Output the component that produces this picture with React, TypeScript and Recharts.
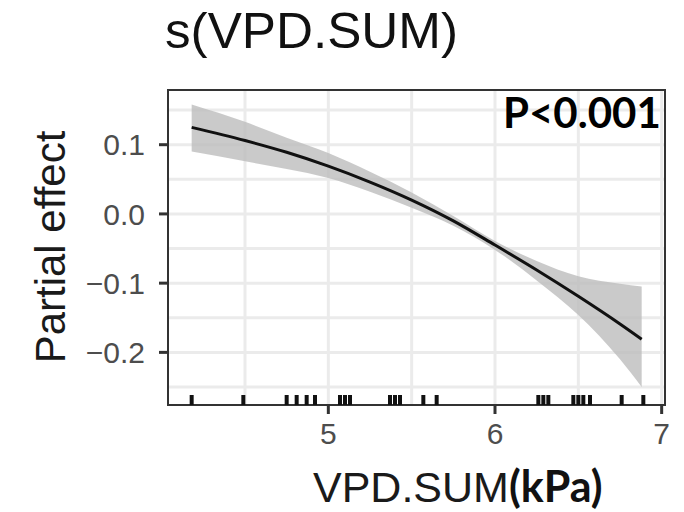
import React from 'react';
import { ComposedChart, Area, Line, Scatter, XAxis, YAxis, CartesianGrid, ReferenceArea } from 'recharts';

// smooth term s(VPD.SUM)
const vpd = [4.18, 4.5, 4.75, 5.0, 5.25, 5.5, 5.75, 6.0, 6.25, 6.5, 6.75, 6.88];
const fit = [0.125, 0.106, 0.089, 0.069, 0.046, 0.02, -0.01, -0.045, -0.081, -0.119, -0.159, -0.181];
const upper = [0.158, 0.133, 0.11, 0.088, 0.061, 0.031, -0.003, -0.039, -0.068, -0.09, -0.101, -0.105];
const lower = [0.09, 0.076, 0.065, 0.052, 0.032, 0.009, -0.017, -0.052, -0.096, -0.146, -0.21, -0.25];

// rug of observations along the bottom
const rug = [4.18, 4.49, 4.75, 4.81, 4.87, 4.92, 5.07, 5.1, 5.13, 5.37, 5.4, 5.43, 5.57, 5.65,
    6.26, 6.29, 6.32, 6.47, 6.5, 6.53, 6.57, 6.76, 6.89];

const xTicks = [5, 6, 7];
const yTicks = [0.1, 0, -0.1, -0.2];
const xGrid = [4.5, 5, 5.5, 6, 6.5, 7];
const yGrid = [0.15, 0.1, 0.05, 0, -0.05, -0.1, -0.15, -0.2, -0.25];

const xDomain = [4.038, 7.02];
const yDomain = [-0.276, 0.179];

const rows = vpd.map((v, i) => ({ vpd: v, fit: fit[i], band: [lower[i], upper[i]] }));
const rugRows = rug.map((v) => ({ vpd: v, y: yDomain[0] }));

const sans = '"Liberation Sans", Arial, sans-serif';
const fmt = (v: number) => (v < 0 ? '\u2212' + Math.abs(v).toFixed(1) : v.toFixed(1));

const RugTick = (props: any) => (
    <line x1={props.cx} x2={props.cx} y1={props.cy} y2={props.cy - 10} stroke="#111" strokeWidth={4} />
);

export default function App() {
    return (
        <div style={{ position: 'absolute', left: 0, top: 0, width: 684, height: 512, background: '#fff' }}>
            <ComposedChart width={684} height={512} data={rows} margin={{ top: 90, right: 19, left: 108, bottom: 57 }}>
                <CartesianGrid stroke="#ebebeb" strokeWidth={3} horizontalValues={yGrid} verticalValues={xGrid} />
                <XAxis
                    dataKey="vpd"
                    type="number"
                    domain={xDomain}
                    ticks={xTicks}
                    allowDataOverflow
                    height={50}
                    tickSize={9}
                    tickMargin={9}
                    axisLine={{ stroke: '#333', strokeWidth: 2 }}
                    tickLine={{ stroke: '#333', strokeWidth: 3 }}
                    tick={{ fill: '#4d4d4d', fontSize: 30, fontFamily: sans }}
                />
                <YAxis
                    type="number"
                    domain={yDomain}
                    ticks={yTicks}
                    allowDataOverflow
                    width={60}
                    tickSize={9}
                    tickMargin={14}
                    tickFormatter={fmt}
                    axisLine={{ stroke: '#333', strokeWidth: 2 }}
                    tickLine={{ stroke: '#333', strokeWidth: 3 }}
                    tick={{ fill: '#4d4d4d', fontSize: 30, fontFamily: sans }}
                />
                <Area type="monotone" dataKey="band" fill="#bdbdbd" fillOpacity={0.8} stroke="none" isAnimationActive={false} />
                <Line type="monotone" dataKey="fit" stroke="#111" strokeWidth={3} dot={false} isAnimationActive={false} />
                <Scatter data={rugRows} dataKey="y" shape={RugTick} isAnimationActive={false} />
                <ReferenceArea x1={xDomain[0]} x2={xDomain[1]} y1={yDomain[0]} y2={yDomain[1]} fill="none" stroke="#333" strokeWidth={2} />
            </ComposedChart>
            <svg width={684} height={512} style={{ position: 'absolute', left: 0, top: 0, pointerEvents: 'none' }}>
                <text x={165} y={48} fontSize={50} fontFamily={sans} fill="#111" textLength={293} lengthAdjust="spacingAndGlyphs">
                    s(VPD.SUM)
                </text>
                <text transform="translate(65,247) rotate(-90)" textAnchor="middle" fontSize={42} fontFamily={sans} fill="#1a1a1a">
                    Partial effect
                </text>
                <text x={313} y={502} fontSize={43} fontFamily={sans} fill="#1a1a1a">
                    VPD.SUM
                    <tspan fontFamily="Lato, sans-serif" fontWeight={700} fontSize={43} fill="#111">(kPa)</tspan>
                </text>
                <text x={503} y={128} fontSize={42} fontFamily="Lato, sans-serif" fontWeight={700} fill="#000">
                    P&lt;0.001
                </text>
            </svg>
        </div>
    );
}
